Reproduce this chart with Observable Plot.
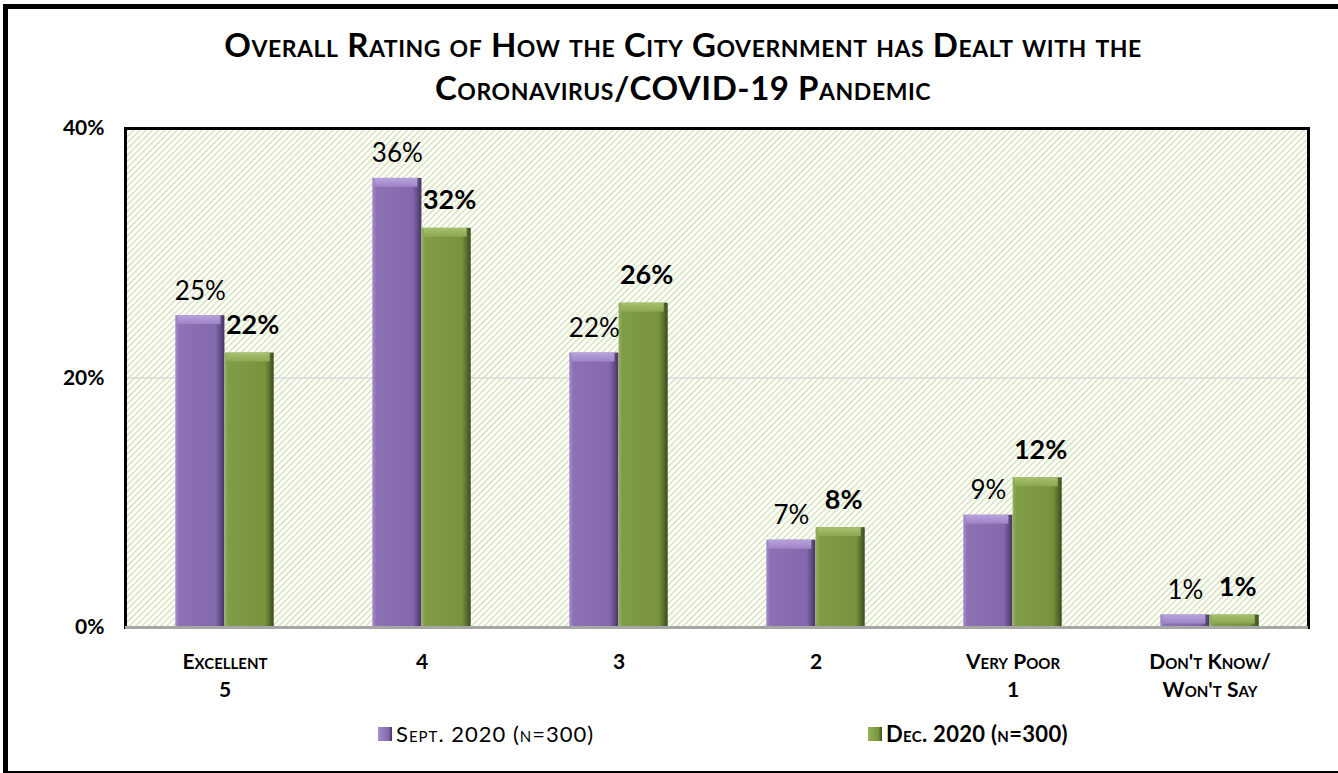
<!DOCTYPE html>
<html><head><meta charset="utf-8">
<script src="https://cdn.jsdelivr.net/npm/d3@7"></script>
<script src="https://cdn.jsdelivr.net/npm/@observablehq/plot@0.6"></script>
<style>
body{margin:0;background:#fff;font-family:Lato,"Open Sans",sans-serif;width:1338px;height:773px;overflow:hidden;position:relative}
#box{position:absolute;left:3px;top:4px;width:1340px;height:769px;border-top:5px solid #000;border-left:5px solid #000;border-bottom:2px solid #000;box-sizing:border-box}
#title{position:absolute;left:0;top:23px;width:1366px;text-align:center;font-weight:700;font-size:33px;letter-spacing:0.55px;font-variant:small-caps;line-height:43px;color:#000}
#chart{position:absolute;left:0;top:100px}
.lg{position:absolute;top:720px;font-size:22px;font-variant:small-caps;color:#000;display:flex;align-items:center;gap:4px}
.sw{width:14px;height:14px;display:inline-block}
</style></head>
<body>
<div id="box"></div>
<div id="title"></div>
<div id="chart"></div>
<div class="lg" id="lg0" style="left:378px;letter-spacing:1px"></div>
<div class="lg" id="lg1" style="left:868px;font-weight:700;letter-spacing:0.3px"></div>
<script>
const titleLines = ["Overall Rating of How the City Government has Dealt with the", "Coronavirus/COVID-19 Pandemic"];
const categories = ["Excellent\n5", "4", "3", "2", "Very Poor\n1", "Don't Know/\nWon't Say"];
const seriesNames = ["Sept. 2020 (n=300)", "Dec. 2020 (n=300)"];
const septValues = [25, 36, 22, 7, 9, 1];
const decValues = [22, 32, 26, 8, 12, 1];
const yTicks = [0, 20, 40];

document.getElementById("title").innerHTML = titleLines.join("<br>");

const sept = categories.map((c, i) => ({cat: c, v: septValues[i]}));
const dec = categories.map((c, i) => ({cat: c, v: decValues[i]}));

const step = (1338 - 125 - 30) / categories.length;
const bw = step / 4;

const chart = Plot.plot({
  width: 1338, height: 620,
  marginLeft: 125, marginRight: 30, marginTop: 28, marginBottom: 93,
  x: {domain: categories, padding: 0, axis: null},
  y: {domain: [0, 40], axis: null},
  style: {fontFamily: "Lato, 'Open Sans', sans-serif", background: "transparent", overflow: "visible", color: "#000"},
  marks: [
    Plot.frame({fill: "url(#hatch)"}),
    Plot.ruleY([20], {stroke: "#d9d9d9", strokeWidth: 1.5}),
    Plot.barY(sept, {x: "cat", y: "v", fill: "url(#gP)", insetLeft: bw, insetRight: 2 * bw}),
    Plot.barY(sept, {x: "cat", y1: "v", y2: "v", insetBottom: -9, insetLeft: bw + 2, insetRight: 2 * bw + 4, fill: "url(#gPt)"}),
    Plot.barY(dec, {x: "cat", y: "v", fill: "url(#gG)", insetLeft: 2 * bw, insetRight: bw}),
    Plot.barY(dec, {x: "cat", y1: "v", y2: "v", insetBottom: -9, insetLeft: 2 * bw + 2, insetRight: bw + 4, fill: "url(#gGt)"}),
    Plot.frame({stroke: "#000", strokeWidth: 3}),
    Plot.ruleY([0], {stroke: "#a6a6a6", strokeWidth: 3}),
    Plot.text(sept, {x: "cat", y: "v", text: d => d.v + "%", dx: -bw / 2, dy: -16, lineAnchor: "bottom", fontSize: 26, fill: "#000"}),
    Plot.text(dec, {x: "cat", y: "v", text: d => d.v + "%", dx: bw / 2 + 3, dy: -19, lineAnchor: "bottom", fontSize: 27, fontWeight: 700, fill: "#000"}),
    Plot.text(yTicks, {y: d => d, text: d => d + "%", frameAnchor: "left", textAnchor: "end", dx: -21, fontSize: 21, fontWeight: 700, fill: "#000"}),
    Plot.text(categories, {x: d => d, text: d => d, frameAnchor: "bottom", lineAnchor: "top", dy: 21, lineHeight: 1.35, fontSize: 21, fontWeight: 700, fontVariant: "small-caps", fill: "#000"})
  ]
});
document.getElementById("chart").appendChild(chart);

const defsHtml = `
<pattern id="hatch" patternUnits="userSpaceOnUse" width="4.4" height="4.4" patternTransform="rotate(45)">
  <rect width="4.4" height="4.4" fill="#ffffff"/>
  <rect x="0" y="0" width="1.4" height="4.4" fill="#d3e1b6"/>
</pattern>
<linearGradient id="gP" x1="0" x2="1" y1="0" y2="0">
  <stop offset="0" stop-color="#a58ecb"/><stop offset="0.08" stop-color="#8c72b5"/>
  <stop offset="0.82" stop-color="#8468ad"/><stop offset="0.9" stop-color="#6a528f"/><stop offset="1" stop-color="#45355f"/>
</linearGradient>
<linearGradient id="gPt" x1="0" x2="0" y1="0" y2="1">
  <stop offset="0" stop-color="#b9a3dc"/><stop offset="1" stop-color="#9d84c6"/>
</linearGradient>
<linearGradient id="gG" x1="0" x2="1" y1="0" y2="0">
  <stop offset="0" stop-color="#94b25a"/><stop offset="0.08" stop-color="#7f9c46"/>
  <stop offset="0.82" stop-color="#77943d"/><stop offset="0.9" stop-color="#5d7530"/><stop offset="1" stop-color="#3b4b1d"/>
</linearGradient>
<linearGradient id="gGt" x1="0" x2="0" y1="0" y2="1">
  <stop offset="0" stop-color="#a7c270"/><stop offset="1" stop-color="#8aa751"/>
</linearGradient>`;
const defs = document.createElementNS("http://www.w3.org/2000/svg", "defs");
defs.innerHTML = defsHtml;
chart.insertBefore(defs, chart.firstChild);

const swatchColors = ["linear-gradient(90deg,#a58ecb,#8468ad 75%,#45355f)", "linear-gradient(90deg,#94b25a,#77943d 75%,#3b4b1d)"];
["lg0", "lg1"].forEach((id, i) => {
  const el = document.getElementById(id);
  const sw = document.createElement("span"); sw.className = "sw"; sw.style.background = swatchColors[i];
  const t = document.createElement("span"); t.textContent = seriesNames[i];
  el.appendChild(sw); el.appendChild(t);
});
</script>
</body></html>
